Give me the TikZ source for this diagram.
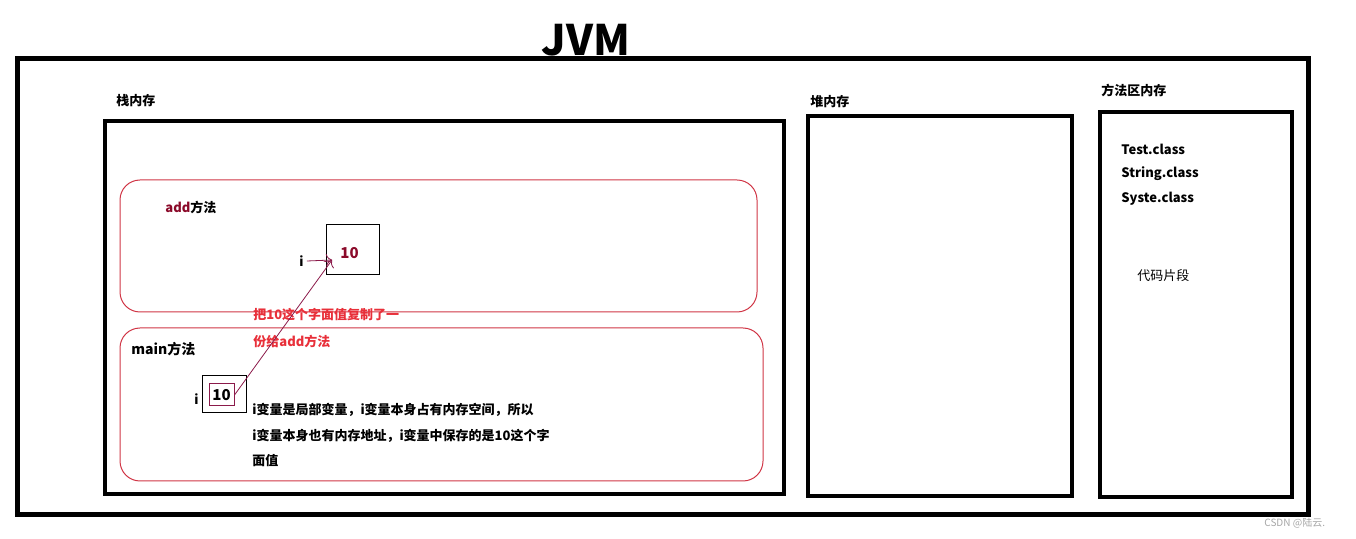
\documentclass[tikz,border=0pt]{standalone}
\usepackage{fontspec}
\setmainfont{Noto Sans CJK SC}
\usetikzlibrary{arrows.meta}
\definecolor{darkval}{HTML}{8B0A2A}
\definecolor{notered}{HTML}{E8303A}
\definecolor{frame_red}{HTML}{D03545}
\definecolor{linkred}{HTML}{8B1A4A}

\begin{document}
\begin{tikzpicture}[
    x=0.5pt, y=-0.5pt,
    txt/.style={anchor=west, inner sep=0pt, font=\fontsize{6.5}{8}\selectfont\bfseries},
    thick_box/.style={draw, line width=2pt},
    method_box/.style={draw=frame_red, line width=0.5pt, rounded corners=10pt},
    val_box/.style={draw, line width=0.5pt, inner sep=0pt},
    link/.style={-{To[length=3pt]}, linkred, line width=0.4pt}
]
    \useasboundingbox (0,0) rectangle (1356,539);
    % frames
    \node[inner sep=0pt, font=\fontsize{21}{24}\selectfont\bfseries] (jvm) at (586,40) {JVM};
    \draw[line width=2.5pt] (17,59) rectangle (1308,515);
    \draw[thick_box] (105,121) rectangle (784,494);
    \draw[thick_box] (808,116) rectangle (1072,496);
    \draw[thick_box] (1100,112) rectangle (1292,497);
    \node[txt] (stack) at (116,101) {栈内存};
    \node[txt] (heap) at (810,102) {堆内存};
    \node[txt] (area) at (1101,90) {方法区内存};

    % add method
    \draw[method_box] (120,180) rectangle (757,312);
    \node[txt] (add_name) at (165,207) {\textcolor{darkval}{add}方法};
    \node[val_box, minimum width=26.5pt, minimum height=25pt] (add_box) at (352.5,250) {};
    \node[txt, text=darkval, font=\fontsize{7.5}{8}\selectfont\bfseries] (add_val) at (340,253) {10};
    \node[txt] (add_i) at (299,261) {i};
    \coordinate (add_tip) at (332,260);

    % main method
    \draw[method_box] (120,328) rectangle (763,481);
    \node[txt, font=\fontsize{7}{8}\selectfont\bfseries] (main_name) at (131,349) {main方法};
    \node[val_box, minimum width=22pt, minimum height=18.5pt] (main_box) at (224,394.5) {};
    \node[val_box, draw=linkred, minimum width=12.5pt, minimum height=11pt,
          font=\fontsize{7.5}{8}\selectfont\bfseries] (main_val) at (221.5,395) {10};
    \node[txt] (main_i) at (194,399) {i};
    \node[txt, text=notered] (copy1) at (253,315) {把10这个字面值复制了一};
    \node[txt, text=notered] (copy2) at (253,341) {份给add方法};
    \node[txt] (note1) at (252,410) {i变量是局部变量，i变量本身占有内存空间，所以};
    \node[txt] (note2) at (252,436) {i变量本身也有内存地址，i变量中保存的是10这个字};
    \node[txt] (note3) at (252,461) {面值};

    \draw[link] (add_i.east) ++(3,0) -- (add_tip);
    \draw[link] (main_val.east) -- (add_tip);

    % method area
    \node[txt] (test) at (1121,149) {Test.class};
    \node[txt] (string) at (1121,174) {String.class};
    \node[txt] (system) at (1121,199) {Syste.class};
    \node[txt, font=\fontsize{6.5}{8}\selectfont] (code) at (1137,276) {代码片段};

    \node[anchor=west, inner sep=0pt, text=gray!70, font=\fontsize{5}{6}\selectfont] (mark) at (1264,523) {CSDN @陆云.};
\end{tikzpicture}
\end{document}
